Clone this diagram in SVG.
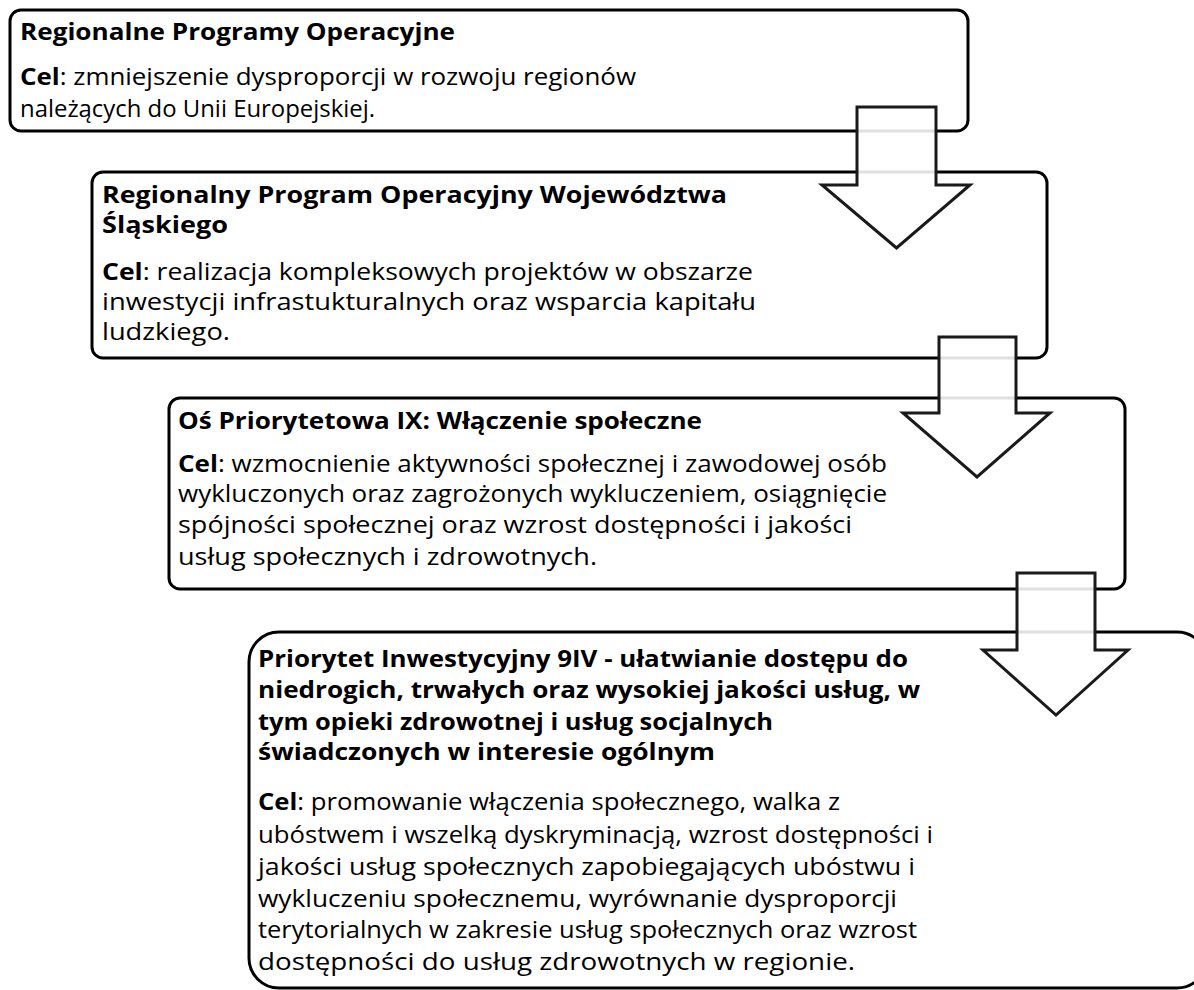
<svg xmlns="http://www.w3.org/2000/svg" width="1194" height="990" viewBox="0 0 1194 990">
<style>
.box{fill:#fff;stroke:#000;stroke-width:3}
.arr{fill:#fff;fill-opacity:0.88;stroke:#1a1a1a;stroke-width:3;stroke-linejoin:miter}
text{font-family:"Open Sans","Noto Sans","Liberation Sans",sans-serif;font-size:23px;fill:#000}
.t{font-weight:700}
.b{font-weight:700}
</style>
<rect width="1194" height="990" fill="#fff"/>
<g id="node1">
<rect class="box" x="10" y="10" width="958" height="121" rx="11"/>
<text class="t" x="20" y="40" textLength="435" lengthAdjust="spacingAndGlyphs">Regionalne Programy Operacyjne</text>
<text x="20" y="85" textLength="616" lengthAdjust="spacingAndGlyphs"><tspan class="b">Cel</tspan>: zmniejszenie dysproporcji w rozwoju regionów</text>
<text x="20" y="117" textLength="355" lengthAdjust="spacingAndGlyphs">należących do Unii Europejskiej.</text>
</g>
<g id="node2">
<rect class="box" x="92" y="172" width="955" height="186" rx="11"/>
<text class="t" x="102" y="203" textLength="625" lengthAdjust="spacingAndGlyphs">Regionalny Program Operacyjny Województwa</text>
<text class="t" x="102" y="233" textLength="126" lengthAdjust="spacingAndGlyphs">Śląskiego</text>
<text x="102" y="280" textLength="651" lengthAdjust="spacingAndGlyphs"><tspan class="b">Cel</tspan>: realizacja kompleksowych projektów w obszarze</text>
<text x="102" y="310" textLength="654" lengthAdjust="spacingAndGlyphs">inwestycji infrastukturalnych oraz wsparcia kapitału</text>
<text x="102" y="340" textLength="128" lengthAdjust="spacingAndGlyphs">ludzkiego.</text>
</g>
<g id="node3">
<rect class="box" x="169" y="398" width="956" height="191" rx="11"/>
<text class="t" x="178" y="429" textLength="524" lengthAdjust="spacingAndGlyphs">Oś Priorytetowa IX: Włączenie społeczne</text>
<text x="178" y="472" textLength="709" lengthAdjust="spacingAndGlyphs"><tspan class="b">Cel</tspan>: wzmocnienie aktywności społecznej i zawodowej osób</text>
<text x="178" y="502" textLength="709" lengthAdjust="spacingAndGlyphs">wykluczonych oraz zagrożonych wykluczeniem, osiągnięcie</text>
<text x="178" y="533" textLength="674" lengthAdjust="spacingAndGlyphs">spójności społecznej oraz wzrost dostępności i jakości</text>
<text x="178" y="565" textLength="419" lengthAdjust="spacingAndGlyphs">usług społecznych i zdrowotnych.</text>
</g>
<g id="node4">
<rect class="box" x="249" y="632" width="958" height="356" rx="30"/>
<text class="t" x="258" y="667" textLength="650" lengthAdjust="spacingAndGlyphs">Priorytet Inwestycyjny 9IV - ułatwianie dostępu do</text>
<text class="t" x="258" y="698" textLength="662" lengthAdjust="spacingAndGlyphs">niedrogich, trwałych oraz wysokiej jakości usług, w</text>
<text class="t" x="258" y="730" textLength="515" lengthAdjust="spacingAndGlyphs">tym opieki zdrowotnej i usług socjalnych</text>
<text class="t" x="258" y="760" textLength="457" lengthAdjust="spacingAndGlyphs">świadczonych w interesie ogólnym</text>
<text x="258" y="810" textLength="582" lengthAdjust="spacingAndGlyphs"><tspan class="b">Cel</tspan>: promowanie włączenia społecznego, walka z</text>
<text x="258" y="843" textLength="675" lengthAdjust="spacingAndGlyphs">ubóstwem i wszelką dyskryminacją, wzrost dostępności i</text>
<text x="258" y="875" textLength="657" lengthAdjust="spacingAndGlyphs">jakości usług społecznych zapobiegających ubóstwu i</text>
<text x="258" y="907" textLength="639" lengthAdjust="spacingAndGlyphs">wykluczeniu społecznemu, wyrównanie dysproporcji</text>
<text x="258" y="938" textLength="659" lengthAdjust="spacingAndGlyphs">terytorialnych w zakresie usług społecznych oraz wzrost</text>
<text x="258" y="970" textLength="597" lengthAdjust="spacingAndGlyphs">dostępności do usług zdrowotnych w regionie.</text>
</g>
<g id="connectors">
<path class="arr" d="M857,107 H936 V185 H970 L896.5,248 L822,185 H857 Z"/>
<path class="arr" d="M939,337 H1016 V413 H1050 L977,477 L903,413 H939 Z"/>
<path class="arr" d="M1017,573 H1095 V650 H1128 L1056,715 L983,650 H1017 Z"/>
</g>
</svg>
